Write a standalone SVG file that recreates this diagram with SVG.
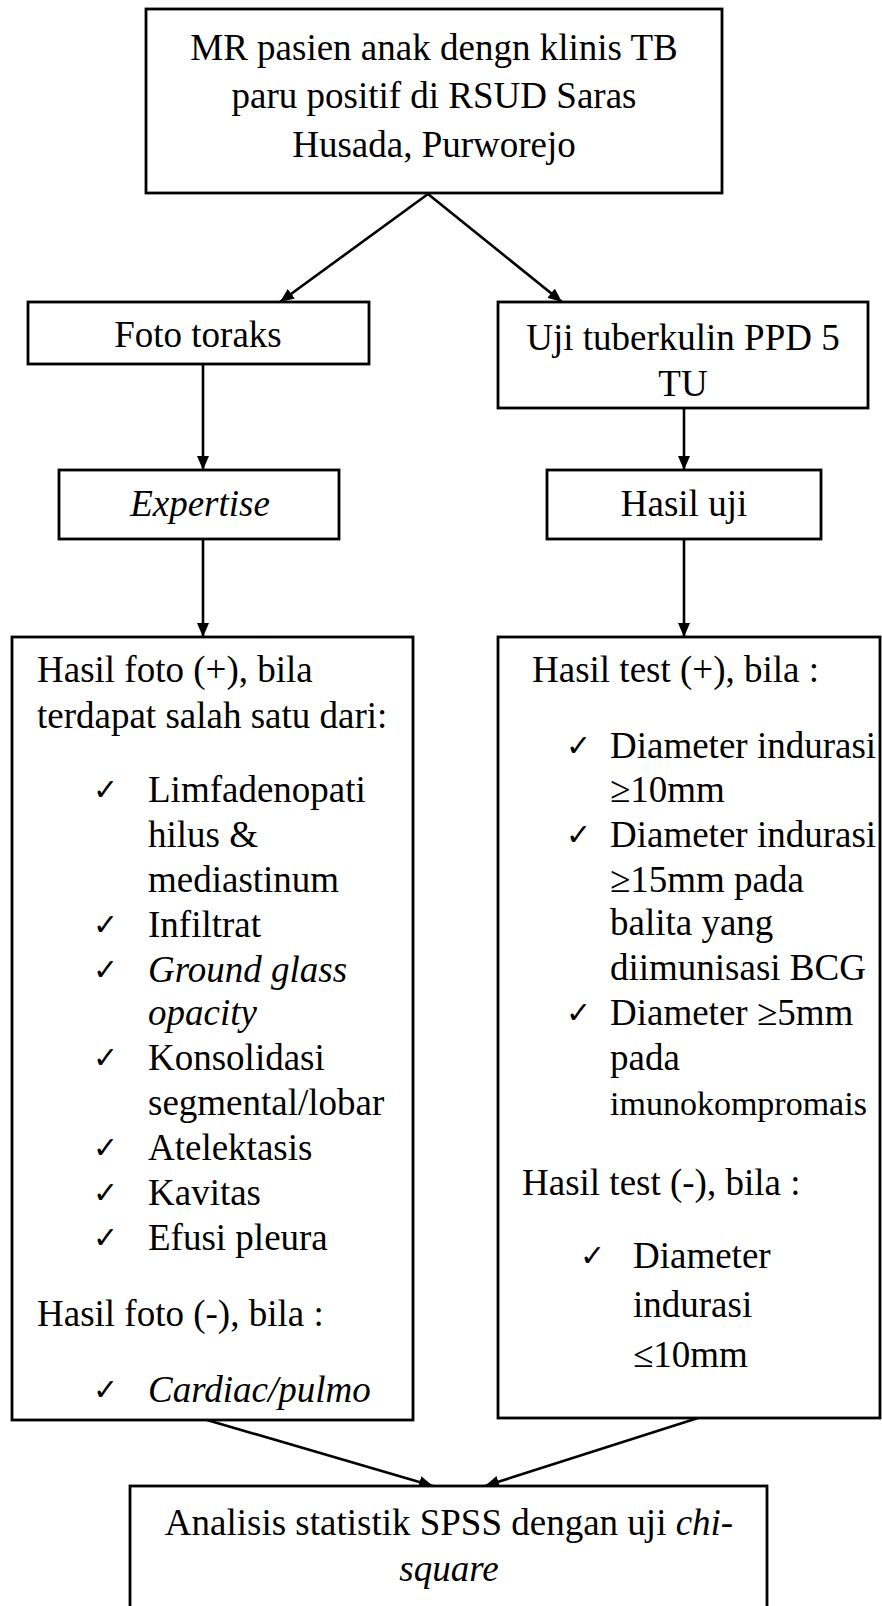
<svg xmlns="http://www.w3.org/2000/svg" width="882" height="1606" viewBox="0 0 882 1606">
<defs>
<style>
.box{fill:#fff;stroke:#000;stroke-width:2.8}
.t{font-family:"Liberation Serif","Times New Roman",serif;font-size:37px;fill:#000}
.c{text-anchor:middle}
.i{font-style:italic}
.ck{font-family:"DejaVu Sans",sans-serif;font-size:30px;fill:#000}
.ln{stroke:#000;stroke-width:2.6;fill:none;marker-end:url(#ah)}
</style>
<marker id="ah" viewBox="0 0 14 12" refX="14" refY="6" markerWidth="14" markerHeight="12" markerUnits="userSpaceOnUse" orient="auto">
<path d="M0,0 L14,6 L0,12 z" fill="#000"/>
</marker>
</defs>
<rect width="882" height="1606" fill="#fff"/>

<g id="connectors">
<line class="ln" x1="428" y1="194" x2="280" y2="302"/>
<line class="ln" x1="428" y1="194" x2="562" y2="302"/>
<line class="ln" x1="203" y1="364" x2="203" y2="470"/>
<line class="ln" x1="684" y1="408" x2="684" y2="470"/>
<line class="ln" x1="203" y1="539" x2="203" y2="637"/>
<line class="ln" x1="684" y1="539" x2="684" y2="637"/>
<line class="ln" x1="207" y1="1420" x2="433" y2="1486"/>
<line class="ln" x1="698" y1="1418" x2="485" y2="1486"/>
</g>

<g id="n-top">
<rect class="box" x="146" y="9" width="576" height="184"/>
<text class="t c" x="434" y="60">MR pasien anak dengn klinis TB</text>
<text class="t c" x="434" y="108">paru positif di RSUD Saras</text>
<text class="t c" x="434" y="157">Husada, Purworejo</text>
</g>

<g id="n-foto">
<rect class="box" x="28" y="302" width="341" height="62"/>
<text class="t c" x="198" y="347">Foto toraks</text>
</g>

<g id="n-uji">
<rect class="box" x="498" y="302" width="370" height="106"/>
<text class="t c" x="683" y="350">Uji tuberkulin PPD 5</text>
<text class="t c" x="683" y="396">TU</text>
</g>

<g id="n-expertise">
<rect class="box" x="59" y="470" width="280" height="69"/>
<text class="t c i" x="200" y="516">Expertise</text>
</g>

<g id="n-hasiluji">
<rect class="box" x="547" y="470" width="274" height="69"/>
<text class="t c" x="684" y="516">Hasil uji</text>
</g>

<g id="n-hasilfoto">
<rect class="box" x="12" y="637" width="401" height="783"/>
<text class="t" x="37" y="682">Hasil foto (+), bila</text>
<text class="t" x="37" y="728">terdapat salah satu dari:</text>
<text class="ck" x="93" y="800">✓</text><text class="t" x="148" y="802">Limfadenopati</text>
<text class="t" x="148" y="847">hilus &amp;</text>
<text class="t" x="148" y="892">mediastinum</text>
<text class="ck" x="93" y="935">✓</text><text class="t" x="148" y="937">Infiltrat</text>
<text class="ck" x="93" y="980">✓</text><text class="t i" x="148" y="982">Ground glass</text>
<text class="t i" x="148" y="1025">opacity</text>
<text class="ck" x="93" y="1068">✓</text><text class="t" x="148" y="1070">Konsolidasi</text>
<text class="t" x="148" y="1115">segmental/lobar</text>
<text class="ck" x="93" y="1158">✓</text><text class="t" x="148" y="1160">Atelektasis</text>
<text class="ck" x="93" y="1203">✓</text><text class="t" x="148" y="1205">Kavitas</text>
<text class="ck" x="93" y="1248">✓</text><text class="t" x="148" y="1250">Efusi pleura</text>
<text class="t" x="37" y="1326">Hasil foto (-), bila :</text>
<text class="ck" x="93" y="1400">✓</text><text class="t i" x="148" y="1402">Cardiac/pulmo</text>
</g>

<g id="n-hasiltest">
<rect class="box" x="498" y="637" width="382" height="781"/>
<text class="t" x="532" y="682">Hasil test (+), bila :</text>
<text class="ck" x="566" y="756">✓</text><text class="t" x="610" y="758">Diameter indurasi</text>
<text class="t" x="610" y="802">≥10mm</text>
<text class="ck" x="566" y="845">✓</text><text class="t" x="610" y="847">Diameter indurasi</text>
<text class="t" x="610" y="892">≥15mm pada</text>
<text class="t" x="610" y="935">balita yang</text>
<text class="t" x="610" y="980">diimunisasi BCG</text>
<text class="ck" x="566" y="1023">✓</text><text class="t" x="610" y="1025">Diameter ≥5mm</text>
<text class="t" x="610" y="1070">pada</text>
<text class="t" x="610" y="1115" style="font-size:34px">imunokompromais</text>
<text class="t" x="522" y="1195">Hasil test (-), bila :</text>
<text class="ck" x="580" y="1266">✓</text><text class="t" x="633" y="1268">Diameter</text>
<text class="t" x="633" y="1317">indurasi</text>
<text class="t" x="633" y="1367">≤10mm</text>
</g>

<g id="n-analisis">
<rect class="box" x="130" y="1486" width="637" height="140"/>
<text class="t c" x="449" y="1535">Analisis statistik SPSS dengan uji <tspan class="i">chi-</tspan></text>
<text class="t c i" x="449" y="1581">square</text>
</g>
</svg>
